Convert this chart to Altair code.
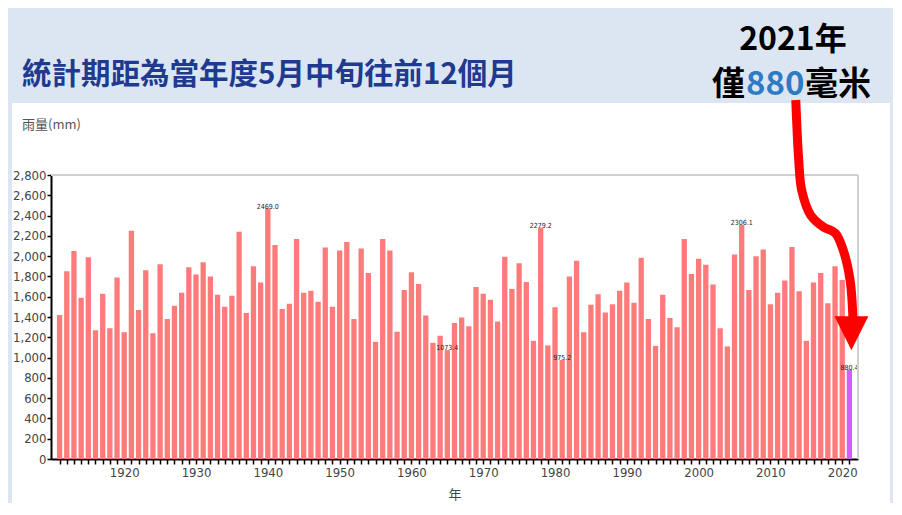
import altair as alt
import pandas as pd

# ---------------- data ----------------
years = list(range(1911, 2022))
rain = [
    1420, 1850, 2050, 1590, 1990, 1270, 1630, 1290, 1790, 1250,   # 1911-1920
    2250, 1470, 1860, 1240, 1920, 1380, 1510, 1640, 1890, 1820,   # 1921-1930
    1940, 1800, 1620, 1500, 1610, 2240, 1440, 1900, 1740, 2469.0, # 1931-1940
    2110, 1480, 1530, 2170, 1640, 1660, 1550, 2085, 1500, 2055,   # 1941-1950
    2140, 1380, 2075, 1835, 1155, 2170, 2055, 1255, 1665, 1840,   # 1951-1960
    1725, 1415, 1145, 1215, 1073.4, 1340, 1395, 1310, 1695, 1630, # 1961-1970
    1570, 1355, 1995, 1675, 1930, 1745, 1165, 2279.2, 1120, 1495, # 1971-1980
    975.2, 1800, 1955, 1250, 1520, 1625, 1445, 1525, 1660, 1740,  # 1981-1990
    1540, 1985, 1380, 1115, 1620, 1390, 1300, 2170, 1825, 1975,   # 1991-2000
    1915, 1720, 1290, 1110, 2015, 2306.1, 1665, 2000, 2065, 1525, # 2001-2010
    1640, 1760, 2090, 1655, 1165, 1740, 1835, 1535, 1900, 1765,   # 2011-2020
    880.4,                                                        # 2021
]
labeled_years = [1940, 1965, 1978, 1981, 2006, 2021]
highlight_year = 2021
y_ticks = list(range(0, 2801, 200))

title_text = "統計期距為當年度5月中旬往前12個月"
note_line1 = "2021年"
note_pre, note_num, note_post = "僅", "880", "毫米"
y_unit = "雨量(mm)"
x_title = "年"

# annotation arrow path (in year / mm space)
arrow_year = [2013.53, 2013.94, 2014.35, 2015.59, 2017.38, 2019.03, 2020.13, 2021.09, 2021.50]
arrow_mm = [3539, 2948, 2652, 2406, 2287, 2228, 2061, 1765, 1370]
arrowhead_year = [2021.28]
arrowhead_mm = [1290]

# ---------------- tables ----------------
df = pd.DataFrame({"year": years, "rain": rain})
df["label"] = df["rain"].map(lambda v: f"{v:.1f}")
lab_df = df[df["year"].isin(labeled_years)]
arrow_df = pd.DataFrame({"year": arrow_year, "rain": arrow_mm, "i": range(len(arrow_year))})
head_df = pd.DataFrame({"year": arrowhead_year, "rain": arrowhead_mm})
one = pd.DataFrame({"k": [0]})

W, H = 807, 284
BLUE = "#dce6f2"
xscale = alt.Scale(domain=[1910.5, 2021.5], nice=False, zero=False)
yscale = alt.Scale(domain=[0, 2800], nice=False)
AXFONT = "Liberation Sans Narrow, Arial Narrow, DejaVu Sans Condensed, sans-serif"
CJK = "Noto Sans CJK TC"

XAXIS = alt.Axis(
    values=years, format="d",
    labelExpr="datum.value % 10 == 0 ? datum.label : ''",
    labelOverlap=False, labelFlush=False, grid=False,
    domainColor="black", domainWidth=2, tickColor="black", tickWidth=1.5,
    tickSize=5, labelPadding=2, labelFont=AXFONT, labelFontSize=13,
    labelColor="#444444", titleFont=CJK, titleFontSize=13,
    titleFontWeight="normal", titleColor="#444444", titlePadding=9,
)
YAXIS = alt.Axis(
    values=y_ticks, format=",d", grid=False, labelOverlap=False, labelFlush=False,
    domainColor="black", domainWidth=2, tickColor="black", tickWidth=1.5,
    tickSize=4, labelPadding=1, labelFont=AXFONT, labelFontSize=13,
    labelColor="#444444",
)


def X():
    return alt.X("year:Q", scale=xscale, title=x_title, axis=XAXIS)


def Y():
    return alt.Y("rain:Q", scale=yscale, title=None, axis=YAXIS)


band_top = alt.Chart(one).mark_rect(color=BLUE).encode(
    x=alt.value(-43), x2=alt.value(842), y=alt.value(-167), y2=alt.value(-72)
)
band_left = alt.Chart(one).mark_rect(color=BLUE).encode(
    x=alt.value(-43), x2=alt.value(-39), y=alt.value(-72), y2=alt.value(340)
)
band_right = alt.Chart(one).mark_rect(color=BLUE).encode(
    x=alt.value(839), x2=alt.value(842), y=alt.value(-72), y2=alt.value(340)
)

bars = alt.Chart(df).mark_bar(width=5.3).encode(
    x=X(), y=Y(),
    color=alt.condition(
        alt.datum.year == highlight_year, alt.value("#d65cff"), alt.value("#ff7b7b")
    ),
)

labels = alt.Chart(lab_df).mark_text(
    fontSize=7, font=AXFONT, color="#222222", baseline="middle", dy=-2
).encode(x=X(), y=Y(), text="label:N")

frame_top = alt.Chart(one).mark_rule(color="#d0d0d0", strokeWidth=2).encode(
    x=alt.value(0), x2=alt.value(W), y=alt.value(0)
)
frame_right = alt.Chart(one).mark_rule(color="#d0d0d0", strokeWidth=2).encode(
    x=alt.value(W), y=alt.value(0), y2=alt.value(H)
)

arrow = alt.Chart(arrow_df).mark_line(
    color="#ff0000", strokeWidth=9, interpolate="catmull-rom", strokeCap="butt"
).encode(x=X(), y=Y(), order="i:Q")

head = alt.Chart(head_df).mark_point(
    shape="M-1,-0.7L1,-0.7L0,1.3Z", filled=True, color="#ff0000", size=1150, opacity=1
).encode(x=X(), y=Y())

title = alt.Chart(one).mark_text(
    text=title_text, font=CJK, fontSize=29.5, fontWeight="bold", color="#1f3a8f",
    align="left", baseline="middle",
).encode(x=alt.value(-29), y=alt.value(-100))

note1 = alt.Chart(one).mark_text(
    text=note_line1, font=CJK, fontSize=32, fontWeight="bold", color="black",
    align="center", baseline="middle",
).encode(x=alt.value(742), y=alt.value(-135))

note2a = alt.Chart(one).mark_text(
    text=note_pre, font=CJK, fontSize=33, fontWeight="bold", color="black",
    align="left", baseline="middle",
).encode(x=alt.value(661), y=alt.value(-90))
note2b = alt.Chart(one).mark_text(
    text=note_num, font=CJK, fontSize=33, fontWeight="bold", color="#2e7bc4",
    align="left", baseline="middle",
).encode(x=alt.value(695), y=alt.value(-90))
note2c = alt.Chart(one).mark_text(
    text=note_post, font=CJK, fontSize=33, fontWeight="bold", color="black",
    align="left", baseline="middle",
).encode(x=alt.value(754), y=alt.value(-90))

unit = alt.Chart(one).mark_text(
    text=y_unit, font=CJK, fontSize=13, color="#555555", align="left", baseline="middle",
).encode(x=alt.value(-29), y=alt.value(-50))

chart = alt.layer(
    band_top, band_left, band_right, bars, labels, frame_top, frame_right,
    arrow, head, title, note1, note2a, note2b, note2c, unit
).properties(
    width=W, height=H,
    autosize=alt.AutoSizeParams(type="none"),
    padding={"left": 43, "top": 167, "right": 35, "bottom": 44},
    background="white",
).configure_view(strokeWidth=0)

chart.save("out.html", embed_options={"renderer": "svg", "actions": False})
